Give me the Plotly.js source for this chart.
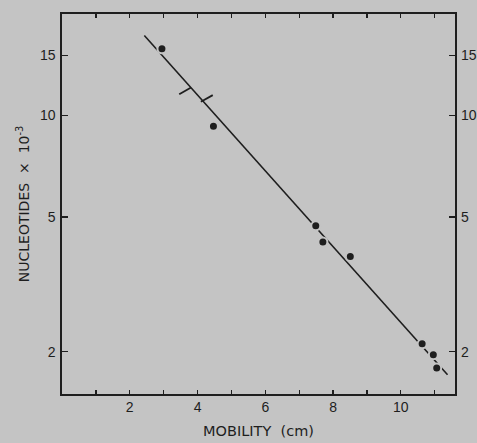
<!DOCTYPE html>
<html>
<head>
<meta charset="utf-8">
<script src="https://cdn.plot.ly/plotly-3.0.1.min.js"></script>
<style>
  html, body { margin: 0; padding: 0; background: #c4c4c4; }
  #chart { width: 477px; height: 443px; }
</style>
</head>
<body>
<div id="chart"></div>
<script>
// Data points (mobility in cm, nucleotides x 10^-3)
const mobility = [2.95, 4.47, 7.49, 7.70, 8.51, 10.63, 10.96, 11.06];
const nucleotides = [15.7, 9.28, 4.71, 4.22, 3.82, 2.11, 1.96, 1.79];

// Fitted standard line end points
const fitX = [2.43, 11.38];
const fitY = [17.2, 1.71];

// Two short bracket marks on the line
const mark1X = [3.46, 3.81];
const mark1Y = [11.53, 12.07];
const mark2X = [4.10, 4.45];
const mark2Y = [10.95, 11.46];

// Axis ticks
const xTickVals = [2, 4, 6, 8, 10];
const xTickText = ['2', '4', '6', '8', '10'];
const yTickVals = [2, 5, 10, 15];
const yTickText = ['2', '5', '10', '15'];

const bg = '#c4c4c4';
const ink = '#1e1e1e';
const fontFam = 'Liberation Sans, Arial, sans-serif';
const titleFam = 'DejaVu Sans, sans-serif';

const traces = [
  { x: fitX, y: fitY, mode: 'lines', line: { color: ink, width: 1.6 }, hoverinfo: 'skip', showlegend: false },
  { x: mark1X, y: mark1Y, mode: 'lines', line: { color: ink, width: 1.8 }, showlegend: false },
  { x: mark2X, y: mark2Y, mode: 'lines', line: { color: ink, width: 1.8 }, showlegend: false },
  { x: mobility, y: nucleotides, mode: 'markers',
    marker: { color: ink, size: 9, line: { color: bg, width: 2 } }, showlegend: false },
  { x: [1], y: [5], yaxis: 'y2', mode: 'markers', marker: { opacity: 0 }, hoverinfo: 'skip', showlegend: false }
];

const yRange = [Math.log10(1.5), Math.log10(19.9)];

const layout = {
  width: 477, height: 443,
  margin: { l: 62, r: 22, t: 14, b: 49 },
  paper_bgcolor: bg, plot_bgcolor: bg,
  font: { family: fontFam, color: ink, size: 13 },
  xaxis: {
    range: [0, 11.6], tickvals: xTickVals, ticktext: xTickText,
    ticks: 'inside', ticklen: 4, tickwidth: 1.3, tickcolor: ink,
    minor: { dtick: 1, tick0: 0, ticks: 'inside', ticklen: 4, tickwidth: 1.3, tickcolor: ink, showgrid: false },
    showline: true, linecolor: ink, linewidth: 1.6, mirror: 'ticks',
    showgrid: false, zeroline: false,
    tickfont: { size: 14, family: fontFam, color: ink },
    title: { text: 'MOBILITY  (cm)', font: { size: 14.5, family: titleFam, color: ink }, standoff: 11 }
  },
  yaxis: {
    type: 'log', range: yRange, tickvals: yTickVals, ticktext: yTickText,
    ticks: 'inside', ticklen: 6, tickwidth: 1.3, tickcolor: ink,
    showline: true, linecolor: ink, linewidth: 1.6, mirror: true,
    showgrid: false, zeroline: false, ticklabelstandoff: 2,
    tickfont: { size: 14, family: fontFam, color: ink },
    title: { text: 'NUCLEOTIDES  ×  10<sup>-3</sup>', font: { size: 14, family: titleFam, color: ink }, standoff: 7 }
  },
  yaxis2: {
    type: 'log', range: yRange, tickvals: yTickVals, ticktext: yTickText,
    overlaying: 'y', side: 'right',
    ticks: 'inside', ticklen: 6, tickwidth: 1.3, tickcolor: ink,
    showline: false, showgrid: false, zeroline: false, ticklabelstandoff: 5,
    tickfont: { size: 14, family: fontFam, color: ink }
  }
};

Plotly.newPlot('chart', traces, layout, { staticPlot: true, displayModeBar: false });
</script>
</body>
</html>
